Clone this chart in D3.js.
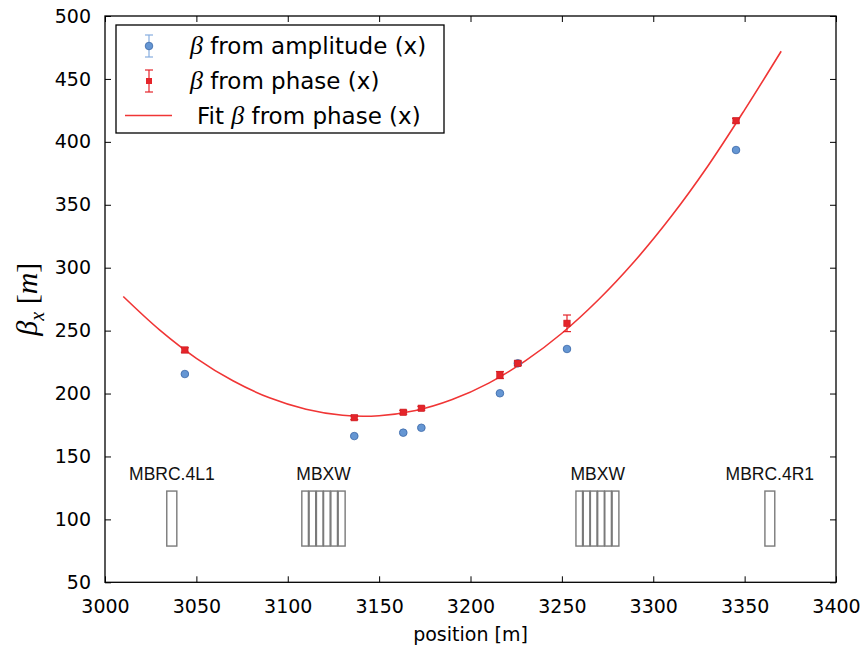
<!DOCTYPE html>
<html><head><meta charset="utf-8">
<script src="https://cdn.jsdelivr.net/npm/d3@7"></script>
<style>body{margin:0;background:#fff}</style>
</head><body><svg id="chart" width="867" height="649"></svg>
<script>
// Measured optics: beta function from phase advance and from amplitude (x plane)
const bpmPos    = [3043.7, 3136.4, 3163.2, 3173.1, 3216.1, 3225.9, 3252.8, 3345.3];
const phaseBeta = [234.6, 180.8, 185.1, 188.3, 214.7, 224.0, 255.8, 416.8];
const phaseErr  = [1.8, 1.5, 1.5, 1.5, 2.8, 1.8, 6.6, 1.8];
const ampBeta   = [215.5, 166.2, 168.9, 172.8, 200.2, 224.0, 235.4, 393.5];
const ampErr    = [0.8, 0.8, 0.8, 0.8, 0.8, 0.8, 0.8, 0.8];

// Fitted beta curve (sampled)
const fitPos  = [3010, 3030, 3050, 3070, 3090, 3110, 3130, 3150, 3170, 3190, 3210, 3230, 3250, 3270, 3290, 3310, 3330, 3350, 3370];
const fitBeta = [277.1, 250.4, 228.0, 210.1, 196.6, 187.5, 182.7, 182.4, 186.5, 195.2, 208.3, 225.9, 247.9, 274.5, 305.5, 341.0, 381.0, 425.4, 472.0];

// Magnet layout (start / end along s)
const magStart = [3033.8, 3107.7, 3111.7, 3115.7, 3119.6, 3123.6, 3127.6, 3257.7, 3261.7, 3265.6, 3269.6, 3273.5, 3277.5, 3361.1];
const magEnd   = [3039.3, 3111.3, 3115.3, 3119.3, 3123.2, 3127.2, 3131.4, 3261.3, 3265.3, 3269.2, 3273.2, 3277.1, 3281.2, 3366.5];
const magBottom = 78.8, magTop = 122.5;
const magLabels   = ["MBRC.4L1", "MBXW", "MBXW", "MBRC.4R1"];
const magLabelPos = [3036.6, 3119.6, 3269.6, 3363.8];
const magLabelBeta = 131.3;

const xTicks = [3000, 3050, 3100, 3150, 3200, 3250, 3300, 3350, 3400];
const yTicks = [50, 100, 150, 200, 250, 300, 350, 400, 450, 500];

const svg = d3.select("#chart");
const L = 105, R = 836, T = 16, B = 582.3;
const x = d3.scaleLinear().domain([3000, 3400]).range([L, R]);
const y = d3.scaleLinear().domain([50, 500]).range([B, T]);

const blueFill = "#6596d3", blueEdge = "#3d6aa8", blueErr = "#86aee0";
const red = "#e5242a", redLine = "#f03535";

// Axes with inward ticks on all four sides
const tickFont = "DejaVu Sans", tickSize = "19px";
function styleAxis(g) {
  g.select(".domain").remove();
  g.selectAll(".tick line").attr("stroke", "#000").attr("stroke-width", 1);
  g.selectAll(".tick text").attr("font-family", tickFont).attr("font-size", tickSize).attr("fill", "#000");
}
svg.append("g").attr("transform", `translate(0,${B})`)
  .call(d3.axisBottom(x).tickValues(xTicks).tickFormat(d3.format("d")).tickSizeInner(-6).tickPadding(17))
  .call(styleAxis);
svg.append("g").attr("transform", `translate(0,${T})`)
  .call(d3.axisTop(x).tickValues(xTicks).tickFormat("").tickSizeInner(-6))
  .call(styleAxis);
svg.append("g").attr("transform", `translate(${L},0)`)
  .call(d3.axisLeft(y).tickValues(yTicks).tickFormat(d3.format("d")).tickSizeInner(-6).tickPadding(14))
  .call(styleAxis);
svg.append("g").attr("transform", `translate(${R},0)`)
  .call(d3.axisRight(y).tickValues(yTicks).tickFormat("").tickSizeInner(-6))
  .call(styleAxis);

// Frame
svg.append("rect").attr("x", L).attr("y", T).attr("width", R - L).attr("height", B - T)
  .attr("fill", "none").attr("stroke", "#000").attr("stroke-width", 1.3);

// Axis titles
svg.append("text").attr("x", (L + R) / 2).attr("y", 641).attr("text-anchor", "middle")
  .attr("font-family", "DejaVu Sans").attr("font-size", "19px").text("position [m]");
const yl = svg.append("text").attr("transform", `translate(37,${(T + B) / 2}) rotate(-90)`)
  .attr("text-anchor", "middle").attr("font-family", "Liberation Serif").attr("font-size", "30px");
yl.append("tspan").attr("font-style", "italic").text("β");
yl.append("tspan").attr("font-style", "italic").attr("font-size", "20px").attr("dy", 7).text("x");
yl.append("tspan").attr("dy", -7).text(" [");
yl.append("tspan").attr("font-style", "italic").text("m");
yl.append("tspan").text("]");

// Magnets
const plot = svg.append("g");
plot.selectAll("rect.mag").data(magStart).join("rect").attr("class", "mag")
  .attr("x", (d) => x(d)).attr("width", (d, i) => x(magEnd[i]) - x(d))
  .attr("y", y(magTop)).attr("height", y(magBottom) - y(magTop))
  .attr("fill", "none").attr("stroke", "#7a7a7a").attr("stroke-width", 1.4);
plot.selectAll("text.mag").data(magLabels).join("text").attr("class", "mag")
  .attr("x", (d, i) => x(magLabelPos[i])).attr("y", y(magLabelBeta)).attr("text-anchor", "middle")
  .attr("font-family", "Liberation Sans").attr("font-size", "17.5px").attr("fill", "#111").text((d) => d);

// Fit curve
const line = d3.line().x((d, i) => x(fitPos[i])).y((d) => y(d)).curve(d3.curveCatmullRom);
plot.append("path").attr("d", line(fitBeta)).attr("fill", "none").attr("stroke", redLine).attr("stroke-width", 1.6);

// Error bars helper
function errorBars(vals, errs, color, cap) {
  const g = plot.append("g").attr("stroke", color).attr("stroke-width", 1.2);
  vals.forEach((v, i) => {
    const px = x(bpmPos[i]);
    g.append("line").attr("x1", px).attr("x2", px).attr("y1", y(v - errs[i])).attr("y2", y(v + errs[i]));
    [v - errs[i], v + errs[i]].forEach((e) =>
      g.append("line").attr("x1", px - cap).attr("x2", px + cap).attr("y1", y(e)).attr("y2", y(e)));
  });
}

// Amplitude points
errorBars(ampBeta, ampErr, blueErr, 4);
plot.selectAll("circle.amp").data(ampBeta).join("circle").attr("class", "amp")
  .attr("cx", (d, i) => x(bpmPos[i])).attr("cy", (d) => y(d)).attr("r", 3.8)
  .attr("fill", blueFill).attr("stroke", blueEdge).attr("stroke-width", 0.8);

// Phase points
errorBars(phaseBeta, phaseErr, red, 4);
plot.selectAll("rect.ph").data(phaseBeta).join("rect").attr("class", "ph")
  .attr("x", (d, i) => x(bpmPos[i]) - 3.2).attr("y", (d) => y(d) - 3.2)
  .attr("width", 6.4).attr("height", 6.4).attr("fill", red).attr("stroke", "#c81a1f").attr("stroke-width", 0.6);

// Legend
const lg = svg.append("g");
lg.append("rect").attr("x", 116).attr("y", 25).attr("width", 328).attr("height", 108)
  .attr("fill", "#fff").attr("stroke", "#000").attr("stroke-width", 1.3);
const rows = [46, 81, 115.5];
// row 1: amplitude marker
lg.append("line").attr("x1", 149).attr("x2", 149).attr("y1", rows[0] - 11).attr("y2", rows[0] + 11).attr("stroke", blueErr).attr("stroke-width", 1.2);
[rows[0] - 11, rows[0] + 11].forEach((v) => lg.append("line").attr("x1", 145).attr("x2", 153).attr("y1", v).attr("y2", v).attr("stroke", blueErr).attr("stroke-width", 1.2));
lg.append("circle").attr("cx", 149).attr("cy", rows[0]).attr("r", 3.8).attr("fill", blueFill).attr("stroke", blueEdge).attr("stroke-width", 0.8);
// row 2: phase marker
lg.append("line").attr("x1", 149).attr("x2", 149).attr("y1", rows[1] - 11).attr("y2", rows[1] + 11).attr("stroke", red).attr("stroke-width", 1.2);
[rows[1] - 11, rows[1] + 11].forEach((v) => lg.append("line").attr("x1", 145).attr("x2", 153).attr("y1", v).attr("y2", v).attr("stroke", red).attr("stroke-width", 1.2));
lg.append("rect").attr("x", 146).attr("y", rows[1] - 3).attr("width", 6).attr("height", 6).attr("fill", red);
// row 3: fit line
lg.append("line").attr("x1", 125).attr("x2", 172).attr("y1", rows[2]).attr("y2", rows[2]).attr("stroke", redLine).attr("stroke-width", 1.6);

const legendTexts = [
  { x: 190, pre: "", post: " from amplitude (x)" },
  { x: 190, pre: "", post: " from phase (x)" },
  { x: 197, pre: "Fit ", post: " from phase (x)" }
];
legendTexts.forEach((t, i) => {
  const tx = lg.append("text").attr("x", t.x).attr("y", rows[i] + 8)
    .attr("font-family", "DejaVu Sans").attr("font-size", "23px").attr("fill", "#000");
  if (t.pre) tx.append("tspan").text(t.pre);
  tx.append("tspan").attr("font-family", "Liberation Serif").attr("font-style", "italic").attr("font-size", "26px").text("β");
  tx.append("tspan").text(t.post);
});
</script>
</body></html>
